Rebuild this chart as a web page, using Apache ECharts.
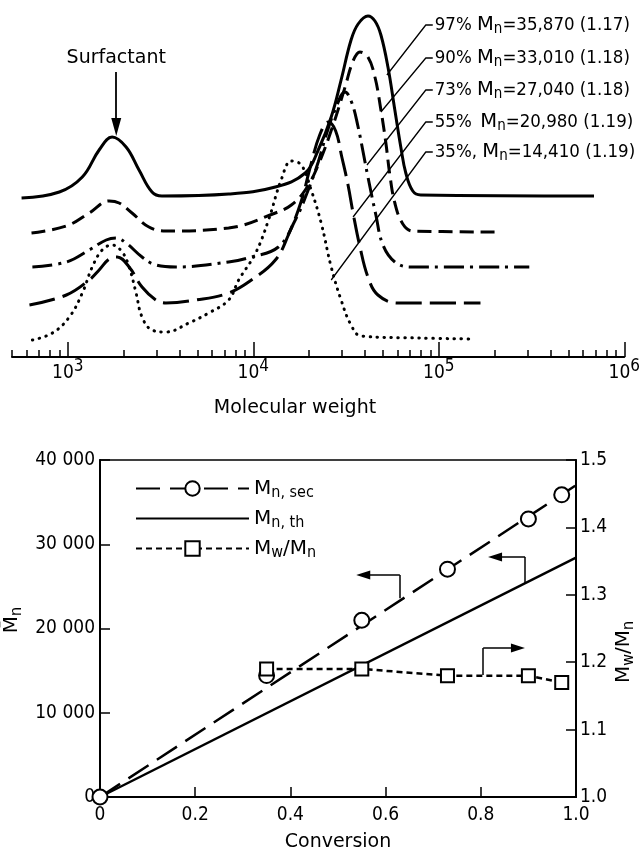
<!DOCTYPE html>
<html>
<head>
<meta charset="utf-8">
<script src="https://cdn.jsdelivr.net/npm/echarts@6/dist/echarts.min.js"></script>
<style>
html, body { margin: 0; padding: 0; background: #fff; }
#chart { width: 643px; height: 855px; }
</style>
</head>
<body>
<div id="chart"></div>
<script>
// SEC traces, [molecular weight, trace height] (heights include the stacking offset)
var trace97 = [[563,159],[900,165],[1197,180],[1475,207],[1733,220],[2061,210],[2420,187],[2843,165],[3217,161],[7360,163],[13150,170],[19060,184],[22390,207],[26300,240],[29740,277],[33650,317],[36730,333],[41500,341],[45260,336],[48750,322],[53200,290],[57950,247],[62400,210],[66400,184],[72400,166],[79900,162],[687000,161]];
var trace90 = [[637,124],[982,131],[1304,144],[1670,156],[1890,154],[2218,144],[2737,130],[3378,126],[7360,129],[13150,144],[16030,152],[19060,167],[22390,192],[26930,232],[31240,270],[34500,296],[37600,305],[41500,300],[45260,280],[48750,247],[51850,214],[54480,182],[57950,154],[64000,133],[72400,126],[212300,125]];
var trace73 = [[644,90],[982,95],[1304,107],[1610,117],[1820,119],[2061,114],[2512,100],[2985,92],[3822,90],[7360,95],[9770,100],[13650,110],[16840,137],[19770,167],[22390,195],[24700,222],[27700,248],[31240,265],[34000,254],[36730,230],[39080,205],[41500,180],[45800,142],[50000,112],[57950,95],[70600,90],[307600,90]];
var trace55 = [[621,52],[982,62],[1304,77],[1475,87],[1670,98],[1845,100],[2140,90],[2512,70],[2985,57],[3378,54],[4900,57],[7360,64],[9770,77],[13150,97],[15450,122],[18150,156],[20280,190],[22800,222],[25350,235],[27800,226],[30000,200],[32410,172],[34510,144],[37600,110],[41500,80],[46980,62],[60120,54],[167800,54]];
var trace35 = [[644,17],[826,24],[1019,40],[1197,64],[1354,90],[1532,107],[1733,112],[1963,105],[2140,90],[2333,64],[2512,40],[2843,27],[3378,25],[4490,34],[5750,44],[7360,57],[8340,77],[10290,104],[12080,137],[14190,178],[16030,196],[18150,192],[20510,167],[23220,134],[26300,90],[29740,57],[33650,32],[38110,21],[77100,19],[152000,18]];

var majorTicks = [1000, 10000, 100000, 1000000];
var minorTicks = [500,600,700,800,900,2000,3000,4000,5000,6000,7000,8000,9000,
  20000,30000,40000,50000,60000,70000,80000,90000,200000,300000,400000,500000,600000,700000,800000,900000];

// trace labels: conversion, Mn, Mw/Mn
var labelConv = ['97%', '90%', '73%', '55%\u2009', '35%,'];
var labelMn = ['35,870', '33,010', '27,040', '20,980', '14,410'];
var labelPdi = ['1.17', '1.18', '1.18', '1.19', '1.19'];

// lower panel
var conversion = [0.35, 0.55, 0.73, 0.90, 0.97];
var mnSec = [14410, 20980, 27040, 33010, 35870];
var pdi = [1.19, 1.19, 1.18, 1.18, 1.17];
var secFitAtFull = 37000;   // dashed line value at conversion 1.0
var thAtFull = 28400;       // theoretical Mn at conversion 1.0

var FONT = '"DejaVu Sans", sans-serif';
var FONT_C = '"DejaVu Sans Condensed", "DejaVu Sans", sans-serif';

var chart = echarts.init(document.getElementById('chart'));

function trace(name, data, dash, cap) {
  return {
    name: name, type: 'line', xAxisIndex: 0, yAxisIndex: 0, data: data,
    smooth: 0.4, symbol: 'none', silent: true, z: 3,
    lineStyle: { color: '#000', width: 3, type: dash, cap: cap || 'butt' }
  };
}

var subRich = {
  t: { fontSize: 19, fontFamily: FONT_C, color: '#000', lineHeight: 22 },
  M: { fontSize: 20, fontFamily: FONT, color: '#000', lineHeight: 22 },
  s: { fontSize: 16, fontFamily: FONT_C, color: '#000', lineHeight: 16, padding: [9, 0, 0, 0] }
};
var labelRich = {
  t: { fontSize: 18.5, fontFamily: FONT_C, color: '#000', lineHeight: 22 },
  M: { fontSize: 19.5, fontFamily: FONT, color: '#000', lineHeight: 22 },
  s: { fontSize: 15, fontFamily: FONT_C, color: '#000', lineHeight: 15, padding: [9, 0, 0, 0] }
};

// leader lines from each trace to its label: [M on trace, height on trace, label height]
var leaders = [[52500,282,332],[48750,245,299],[41000,192,267],[34510,140,235],[26300,77,205]];
var leaderCornerM = 85100, leaderEndM = 92800;

var leaderSeries = leaders.map(function (l, i) {
  return {
    name: 'leader' + i, type: 'line', xAxisIndex: 0, yAxisIndex: 0, silent: true,
    symbol: 'none', z: 4,
    lineStyle: { color: '#000', width: 1.3 },
    data: [[l[0], l[1]], [leaderCornerM, l[2]], [leaderEndM, l[2]]],
    endLabel: {
      show: true, distance: 2,
      formatter: function () {
        return '{t|' + labelConv[i] + ' }{M|M}{s|n}{t|=' + labelMn[i] + ' (' + labelPdi[i] + ')}';
      },
      rich: labelRich
    }
  };
});

var arrowLine = { color: '#000', width: 1.5, type: 'solid' };
function arrow(x0, y0, y1, x1) {
  return [
    [{ coord: [x0, y0], symbol: 'none' }, { coord: [x0, y1], symbol: 'none' }],
    [{ coord: [x0, y1], symbol: 'none' }, { coord: [x1, y1], symbol: 'triangle', symbolSize: [9, 14] }]
  ];
}

var option = {
  animation: false,
  backgroundColor: '#fff',
  textStyle: { fontFamily: FONT, color: '#000' },
  grid: [
    { left: 12, right: 16, top: 0, height: 357 },
    { left: 100, right: 67, top: 460, bottom: 58, show: true, borderColor: '#000', borderWidth: 1.5 }
  ],
  legend: {
    data: [
      'Mn, sec',
      { name: 'Mn, th', itemStyle: { color: 'rgba(0,0,0,0)', borderColor: 'rgba(0,0,0,0)', borderWidth: 0 } },
      'Mw/Mn'
    ],
    orient: 'vertical', left: 130, top: 471,
    itemWidth: 113, itemHeight: 18, itemGap: 5, selectedMode: false,
    formatter: function (name) {
      if (name === 'Mn, sec') return '{M|M}{s|n, sec}';
      if (name === 'Mn, th') return '{M|M}{s|n, th}';
      return '{M|M}{s|w}{M|/M}{s|n}';
    },
    textStyle: { rich: subRich }
  },
  xAxis: [
    {
      type: 'log', logBase: 10, gridIndex: 0, min: 500, max: 1000000, position: 'bottom',
      axisLine: { lineStyle: { color: '#000', width: 2 } },
      axisTick: { inside: true, length: 15, customValues: majorTicks, lineStyle: { color: '#000', width: 1.5 } },
      axisLabel: {
        customValues: majorTicks, margin: 5, color: '#000',
        formatter: function (v) { return '{b|10}{p|' + Math.round(Math.log10(v)) + '}'; },
        rich: {
          b: { fontSize: 19, fontFamily: FONT_C, color: '#000', lineHeight: 22 },
          p: { fontSize: 17, fontFamily: FONT_C, color: '#000', lineHeight: 17, padding: [0, 0, 13, 0] }
        }
      },
      splitLine: { show: false }
    },
    {
      type: 'log', logBase: 10, gridIndex: 0, min: 500, max: 1000000, position: 'bottom', offset: 0,
      axisLine: { show: false },
      axisTick: { inside: true, length: 7, customValues: minorTicks, lineStyle: { color: '#000', width: 1.5 } },
      axisLabel: { show: false },
      splitLine: { show: false }
    },
    {
      type: 'value', gridIndex: 1, min: 0, max: 1, interval: 0.2,
      axisLine: { lineStyle: { color: '#000', width: 2 } },
      axisTick: { inside: true, length: 10, lineStyle: { color: '#000', width: 1.5 } },
      axisLabel: {
        color: '#000', fontSize: 19, fontFamily: FONT_C, margin: 9,
        formatter: function (v) { return v === 0 ? '0' : v.toFixed(1); }
      },
      splitLine: { show: false },
      name: 'Conversion', nameLocation: 'middle', nameGap: 36,
      nameTextStyle: { fontSize: 19, fontFamily: FONT, color: '#000' }
    }
  ],
  yAxis: [
    { type: 'value', gridIndex: 0, min: 0, max: 357, show: false },
    {
      type: 'value', gridIndex: 1, min: 0, max: 40000, interval: 10000, position: 'left',
      axisLine: { show: true, lineStyle: { color: '#000', width: 2 } },
      axisTick: { show: true, inside: true, length: 10, lineStyle: { color: '#000', width: 1.5 } },
      axisLabel: {
        color: '#000', fontSize: 19, fontFamily: FONT_C, margin: 5,
        formatter: function (v) { return v === 0 ? '0' : (v / 1000) + ' 000'; }
      },
      splitLine: { show: false }
    },
    {
      type: 'value', gridIndex: 1, min: 1.0, max: 1.5, interval: 0.1, position: 'right',
      axisLine: { show: true, lineStyle: { color: '#000', width: 2 } },
      axisTick: { show: true, inside: true, length: 10, lineStyle: { color: '#000', width: 1.5 } },
      axisLabel: {
        color: '#000', fontSize: 19, fontFamily: FONT_C, margin: 4,
        formatter: function (v) { return v.toFixed(1); }
      },
      splitLine: { show: false }
    }
  ],
  graphic: [
    {
      type: 'text', x: 295, y: 408, silent: true,
      style: { text: 'Molecular weight', font: '19px "DejaVu Sans"', fill: '#000', align: 'center', verticalAlign: 'middle' }
    },
    {
      type: 'text', x: 12, y: 620, rotation: Math.PI / 2, silent: true,
      style: { text: '{M|M\u0304}{s|n}', rich: subRich, align: 'center', verticalAlign: 'middle' }
    },
    {
      type: 'text', x: 624, y: 652, rotation: Math.PI / 2, silent: true,
      style: { text: '{M|M}{s|w}{M|/M}{s|n}', rich: subRich, align: 'center', verticalAlign: 'middle' }
    }
  ],
  series: [
    Object.assign(trace('97%', trace97, 'solid'), {
      markLine: {
        silent: true, symbol: ['none', 'none'],
        lineStyle: { color: '#000', width: 1.8, type: 'solid' },
        label: { show: true, position: 'start', formatter: 'Surfactant', fontSize: 19, fontFamily: FONT, color: '#000', distance: 4 },
        data: [[{ coord: [1824, 285], symbol: 'none' }, { coord: [1824, 230], symbol: 'triangle', symbolSize: [10, 18] }]]
      }
    }),
    trace('90%', trace90, [14, 7]),
    trace('73%', trace73, [20, 6, 3, 6]),
    trace('55%', trace55, [26, 8]),
    trace('35%', trace35, [0.5, 6.5], 'round')
  ].concat(leaderSeries).concat([
    {
      name: 'Mn, sec', type: 'line', xAxisIndex: 2, yAxisIndex: 1,
      data: [[0, 0], [1, secFitAtFull]],
      symbol: 'circle', symbolSize: 15, showSymbol: false, silent: true, z: 3,
      itemStyle: { color: '#fff', borderColor: '#000', borderWidth: 2 },
      lineStyle: { color: '#000', width: 2.5, type: [24, 10] },
      markLine: { silent: true, symbol: ['none', 'none'], label: { show: false }, lineStyle: arrowLine,
        data: arrow(0.63, 23600, 26350, 0.553) }
    },
    {
      name: 'Mn, sec points', type: 'scatter', xAxisIndex: 2, yAxisIndex: 1,
      data: [[0, 0]].concat(conversion.map(function (c, i) { return [c, mnSec[i]]; })),
      symbol: 'circle', symbolSize: 15, clip: false, silent: true, z: 5,
      itemStyle: { color: '#fff', borderColor: '#000', borderWidth: 2, opacity: 1 }
    },
    {
      name: 'Mn, th', type: 'line', xAxisIndex: 2, yAxisIndex: 1,
      data: [[0, 0], [1, thAtFull]],
      symbol: 'none', silent: true, z: 3,
      itemStyle: { color: '#000' },
      lineStyle: { color: '#000', width: 2.5, type: 'solid' },
      markLine: { silent: true, symbol: ['none', 'none'], label: { show: false }, lineStyle: arrowLine,
        data: arrow(0.893, 25400, 28490, 0.83) }
    },
    {
      name: 'Mw/Mn', type: 'line', xAxisIndex: 2, yAxisIndex: 2,
      data: conversion.map(function (c, i) { return [c, pdi[i]]; }),
      symbol: 'rect', symbolSize: 13, silent: true, z: 6,
      itemStyle: { color: '#fff', borderColor: '#000', borderWidth: 2 },
      lineStyle: { color: '#000', width: 2.5, type: [6, 4] },
      markLine: { silent: true, symbol: ['none', 'none'], label: { show: false }, lineStyle: arrowLine,
        data: arrow(0.805, 1.181, 1.221, 0.878) }
    }
  ])
};

chart.setOption(option);
</script>
</body>
</html>
